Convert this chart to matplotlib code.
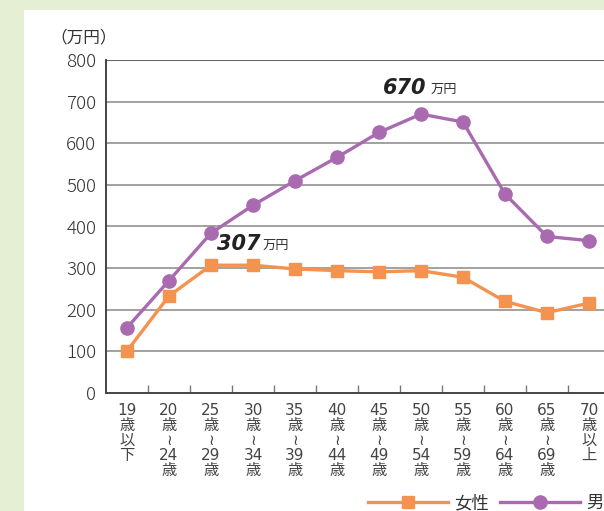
import matplotlib.pyplot as plt
import numpy as np

plt.rcParams['font.family'] = ['Noto Sans CJK JP', 'DejaVu Sans']

ages = ['19\n歳\n以\n下', '20\n歳\n≀\n24\n歳', '25\n歳\n≀\n29\n歳', '30\n歳\n≀\n34\n歳',
        '35\n歳\n≀\n39\n歳', '40\n歳\n≀\n44\n歳', '45\n歳\n≀\n49\n歳', '50\n歳\n≀\n54\n歳',
        '55\n歳\n≀\n59\n歳', '60\n歳\n≀\n64\n歳', '65\n歳\n≀\n69\n歳', '70\n歳\n以\n上']
female = [101, 233, 307, 307, 298, 294, 291, 294, 278, 220, 193, 216]
male = [157, 270, 384, 451, 510, 566, 626, 670, 651, 478, 376, 366]
yticks = [0, 100, 200, 300, 400, 500, 600, 700, 800]

W, H = 604, 511
fig = plt.figure(figsize=(W / 100, H / 100), dpi=100)
fig.patch.set_facecolor('#e5efd4')
# white panel
fig.patches.append(plt.Rectangle((24 / W, 0), 1, 1 - 10 / H, transform=fig.transFigure,
                                 facecolor='white', edgecolor='none', zorder=-5))

ax = fig.add_axes([106 / W, (H - 393) / H, 504 / W, 333 / H])
ax.set_facecolor('none')
x = np.arange(len(ages))

ax.plot(x, male, color='#a96aaf', lw=2.4, marker='o', ms=9.5, label='男性', zorder=3)
ax.plot(x, female, color='#f4924f', lw=2.4, marker='s', ms=9, label='女性', zorder=4)

ax.set_xlim(-0.5, len(ages) - 0.5)
ax.set_ylim(0, 800)
ax.set_yticks(yticks)
ax.tick_params(axis='y', length=0, pad=7, labelsize=13.5, labelcolor='#333333')
for t in ax.get_yticklabels():
    t.set_fontweight('light')
for y in yticks[1:]:
    ax.axhline(y, color='#333333' if y == 800 else '#888888', lw=1.1, zorder=1)

ax.set_xticks(np.arange(0.5, len(ages) - 0.5))
ax.set_xticklabels([])
ax.tick_params(axis='x', which='major', direction='in', length=6, color='#777777', width=1)
ax.set_xticks(x, minor=True)
ax.set_xticklabels(ages, minor=True, fontsize=11, color='#444444', linespacing=1.0,
                   va='top', family=['DejaVu Sans', 'Noto Sans CJK JP'])
ax.tick_params(axis='x', which='minor', length=0, pad=7)

for s in ['top', 'right']:
    ax.spines[s].set_visible(False)
for s in ['left', 'bottom']:
    ax.spines[s].set_color('#444444')
    ax.spines[s].set_linewidth(1.4)

fig.text(50 / W, 1 - 38 / H, '（万円）', fontsize=12, color='#333333', va='center')

# peak annotations
ax.annotate('307', (2, female[2]), xytext=(217 / W, 1 - 244 / H), textcoords='figure fraction',
            fontsize=15, fontweight='bold', style='italic', color='#222222', va='center',
            family='DejaVu Sans')
fig.text(263 / W, 1 - 245 / H, '万円', fontsize=9.5, color='#333333', va='center')
ax.annotate('670', (7, male[7]), xytext=(383 / W, 1 - 88 / H), textcoords='figure fraction',
            fontsize=15, fontweight='bold', style='italic', color='#222222', va='center',
            family='DejaVu Sans')
fig.text(431 / W, 1 - 89 / H, '万円', fontsize=9.5, color='#333333', va='center')

h, l = ax.get_legend_handles_labels()
fig.legend(h[::-1], l[::-1], loc='center left', bbox_to_anchor=(359 / W, 1 - 503 / H),
           ncol=2, frameon=False, handlelength=4.6, handletextpad=0.4, columnspacing=0.6,
           fontsize=12.5, borderpad=0, labelcolor='#333333')

fig.savefig('out.png', dpi=100)
